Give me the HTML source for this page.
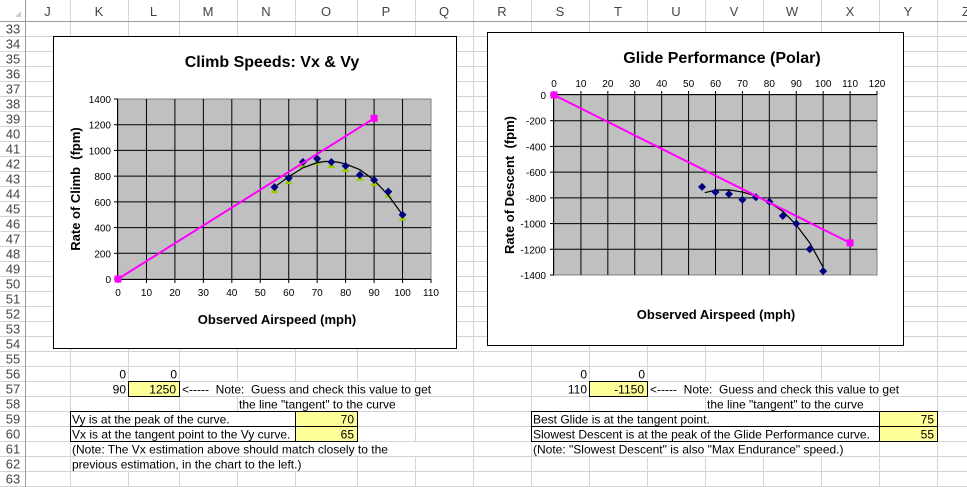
<!DOCTYPE html>
<html><head><meta charset="utf-8"><style>
body{margin:0;background:#fff;width:967px;height:487px;overflow:hidden}
svg{display:block;font-family:"Liberation Sans",Arial,sans-serif}
</style></head><body>
<svg id="s" width="967" height="487" xmlns="http://www.w3.org/2000/svg"></svg>
<script>
const s=document.getElementById('s');let h='';
const cols=[['J',25,70],['K',70,128],['L',128,179],['M',179,237],['N',237,295],['O',295,357],['P',357,415],['Q',415,473],['R',473,531],['S',531,589],['T',589,647],['U',647,705],['V',705,763],['W',763,821],['X',821,879],['Y',879,937],['Z',937,995]];
for(let r=0;r<=31;r++){let y=21+r*15;h+=`<line x1="0" x2="967" y1="${y+.5}" y2="${y+.5}" stroke="#d4d4d4"/>`;}
cols.forEach(c=>{h+=`<line x1="${c[2]+.5}" x2="${c[2]+.5}" y1="0" y2="487" stroke="#d4d4d4"/>`;h+=`<text x="${(c[1]+c[2])/2}" y="16" font-size="13" fill="#444" text-anchor="middle">${c[0]}</text>`;});
h+=`<line x1="0" x2="967" y1="21.5" y2="21.5" stroke="#9a9a9a"/><line x1="25.5" x2="25.5" y1="0" y2="487" stroke="#9a9a9a"/>`;
h+=`<path d="M21 17 L21 11 L15 17Z" fill="#ccc"/>`;
for(let r=33;r<=63;r++){let y=21+(r-33)*15;h+=`<text x="13" y="${y+12.5}" font-size="13" fill="#444" text-anchor="middle">${r}</text>`;}
const ry=r=>21+(r-33)*15;
// white bands hiding gridlines under overflow text
const wb=(x1,x2,r)=>{h+=`<rect x="${x1+1}" y="${ry(r)+1}" width="${x2-x1-1}" height="14" fill="#fff"/>`;};
wb(179,473,57);wb(237,415,58);wb(70,473,61);wb(70,357,62);
wb(647,937,57);wb(705,879,58);wb(531,879,61);
const T=(x,y,t,o='')=>{h+=`<text x="${x}" y="${y}" font-size="12" xml:space="preserve" ${o}>${t}</text>`;};
function chart(x1,y1,x2,y2){h+=`<rect x="${x1+.5}" y="${y1+.5}" width="${x2-x1}" height="${y2-y1}" fill="#fff" stroke="#000"/>`;}
chart(53,36,456,348);chart(487,32,903,345);
const X1=v=>118+v*313/110,Y1=v=>279-v*180/1400;
h+=`<rect x="118" y="99" width="313" height="180" fill="#c0c0c0" stroke="#808080"/>`;
for(let i=1;i<11;i++)h+=`<line x1="${X1(i*10)}" x2="${X1(i*10)}" y1="99" y2="279" stroke="#000"/>`;
for(let i=1;i<7;i++)h+=`<line x1="118" x2="431" y1="${Y1(i*200)}" y2="${Y1(i*200)}" stroke="#000"/>`;
h+=`<line x1="118" x2="431" y1="279.5" y2="279.5" stroke="#000"/><line x1="117.5" x2="117.5" y1="99" y2="279" stroke="#000"/>`;
for(let i=0;i<=7;i++){h+=`<line x1="114" x2="118" y1="${Y1(i*200)}" y2="${Y1(i*200)}" stroke="#000"/>`;h+=`<text x="111" y="${Y1(i*200)+4}" font-size="10" text-anchor="end">${i*200}</text>`;}
for(let i=0;i<=11;i++){h+=`<line x1="${X1(i*10)}" x2="${X1(i*10)}" y1="279" y2="283" stroke="#000"/>`;h+=`<text x="${X1(i*10)}" y="296" font-size="10" text-anchor="middle">${i*10}</text>`;}
h+=`<text x="272" y="67" font-size="16" font-weight="bold" text-anchor="middle">Climb Speeds: Vx &amp; Vy</text>`;
h+=`<text x="277" y="324" font-size="13" font-weight="bold" text-anchor="middle">Observed Airspeed (mph)</text>`;
h+=`<text transform="translate(80,189) rotate(-90)" font-size="13" font-weight="bold" text-anchor="middle" xml:space="preserve">Rate of Climb  (fpm)</text>`;
const d1=[[55,715],[60,785],[65,910],[70,935],[75,910],[80,880],[85,810],[90,770],[95,680],[100,500]];
const c1=[[55,715],[60,795],[65,865],[70,905],[73,915],[77,910],[80,895],[85,850],[90,770],[95,650],[100,500]];
d1.forEach(p=>{let x=X1(p[0]),y=Y1(p[1])+3;h+=`<path d="M${x-4} ${y+3}L${x} ${y-3}L${x+4} ${y+3}Z" fill="#99cc00"/>`;});
h+=`<polyline fill="none" stroke="#000" stroke-width="1.2" points="${c1.map(p=>X1(p[0])+','+Y1(p[1])).join(' ')}"/>`;
d1.forEach(p=>{let x=X1(p[0]),y=Y1(p[1]);h+=`<path d="M${x} ${y-4}L${x+4} ${y}L${x} ${y+4}L${x-4} ${y}Z" fill="#000080"/>`;});
h+=`<line x1="${X1(0)}" y1="${Y1(0)}" x2="${X1(90)}" y2="${Y1(1250)}" stroke="#ff00ff" stroke-width="2"/>`;
[[0,0],[90,1250]].forEach(p=>h+=`<rect x="${X1(p[0])-3.5}" y="${Y1(p[1])-3.5}" width="7" height="7" fill="#ff00ff"/>`);
const X2=v=>554+v*323/120,Y2=v=>95-v*180/1400;
h+=`<rect x="554" y="95" width="323" height="180" fill="#c0c0c0" stroke="#808080"/>`;
for(let i=1;i<12;i++)h+=`<line x1="${X2(i*10)}" x2="${X2(i*10)}" y1="95" y2="275" stroke="#000"/>`;
for(let i=1;i<7;i++)h+=`<line x1="554" x2="877" y1="${Y2(-i*200)}" y2="${Y2(-i*200)}" stroke="#000"/>`;
h+=`<line x1="554" x2="877" y1="94.5" y2="94.5" stroke="#000"/><line x1="553.5" x2="553.5" y1="95" y2="275" stroke="#000"/>`;
for(let i=0;i<=7;i++){h+=`<line x1="550" x2="554" y1="${Y2(-i*200)}" y2="${Y2(-i*200)}" stroke="#000"/>`;h+=`<text x="546" y="${Y2(-i*200)+4}" font-size="10" text-anchor="end">${i?'-'+i*200:0}</text>`;}
for(let i=0;i<=12;i++){h+=`<line x1="${X2(i*10)}" x2="${X2(i*10)}" y1="91" y2="95" stroke="#000"/>`;h+=`<text x="${X2(i*10)}" y="87" font-size="10" text-anchor="middle">${i*10}</text>`;}
h+=`<text x="722" y="63" font-size="16" font-weight="bold" text-anchor="middle">Glide Performance (Polar)</text>`;
h+=`<text x="716" y="319" font-size="13" font-weight="bold" text-anchor="middle">Observed Airspeed (mph)</text>`;
h+=`<text transform="translate(514,185) rotate(-90)" font-size="13" font-weight="bold" text-anchor="middle" xml:space="preserve">Rate of Descent  (fpm)</text>`;
const d2=[[55,-715],[60,-755],[65,-770],[70,-815],[75,-795],[80,-830],[85,-940],[90,-1000],[95,-1200],[100,-1370]];
const c2=[[56,-760],[60,-740],[65,-738],[70,-755],[75,-785],[80,-835],[85,-905],[90,-1010],[95,-1150],[100,-1340]];
h+=`<polyline fill="none" stroke="#000" stroke-width="1.2" points="${c2.map(p=>X2(p[0])+','+Y2(p[1])).join(' ')}"/>`;
d2.forEach(p=>{let x=X2(p[0]),y=Y2(p[1]);h+=`<path d="M${x} ${y-4}L${x+4} ${y}L${x} ${y+4}L${x-4} ${y}Z" fill="#000080"/>`;});
h+=`<line x1="${X2(0)}" y1="${Y2(0)}" x2="${X2(110)}" y2="${Y2(-1150)}" stroke="#ff00ff" stroke-width="2"/>`;
[[0,0],[110,-1150]].forEach(p=>h+=`<rect x="${X2(p[0])-3.5}" y="${Y2(p[1])-3.5}" width="7" height="7" fill="#ff00ff"/>`);
const box=(x1,x2,r,fill)=>{h+=`<rect x="${x1+.5}" y="${ry(r)+.5}" width="${x2-x1}" height="15" fill="${fill}" stroke="#000"/>`;};
T(126,ry(56)+12.5,'0','text-anchor="end"');T(177,ry(56)+12.5,'0','text-anchor="end"');
T(126,ry(57)+12.5,'90','text-anchor="end"');box(128,179,57,'#ffff99');T(176,ry(57)+12.5,'1250','text-anchor="end"');
T(182,ry(57)+12.5,'&lt;-----  Note:  Guess and check this value to get');
T(239,ry(58)+12.5,'the line "tangent" to the curve');
box(70,295,59,'#fff');box(295,357,59,'#ffff99');box(70,295,60,'#fff');box(295,357,60,'#ffff99');
T(72,ry(59)+12.5,'Vy is at the peak of the curve.');T(354,ry(59)+12.5,'70','text-anchor="end"');
T(72,ry(60)+12.5,'Vx is at the tangent point to the Vy curve.');T(354,ry(60)+12.5,'65','text-anchor="end"');
T(72,ry(61)+12.5,'(Note: The Vx estimation above should match closely to the');
T(72,ry(62)+12.5,'previous estimation, in the chart to the left.)');
T(587,ry(56)+12.5,'0','text-anchor="end"');T(645,ry(56)+12.5,'0','text-anchor="end"');
T(587,ry(57)+12.5,'110','text-anchor="end"');box(589,647,57,'#ffff99');T(644,ry(57)+12.5,'-1150','text-anchor="end"');
T(650,ry(57)+12.5,'&lt;-----  Note:  Guess and check this value to get');
T(707,ry(58)+12.5,'the line "tangent" to the curve');
box(531,879,59,'#fff');box(879,937,59,'#ffff99');box(531,879,60,'#fff');box(879,937,60,'#ffff99');
T(533,ry(59)+12.5,'Best Glide is at the tangent point.');T(934,ry(59)+12.5,'75','text-anchor="end"');
T(533,ry(60)+12.5,'Slowest Descent is at the peak of the Glide Performance curve.');T(934,ry(60)+12.5,'55','text-anchor="end"');
T(533,ry(61)+12.5,'(Note: "Slowest Descent" is also "Max Endurance" speed.)');
s.innerHTML=h;
</script>
</body></html>
